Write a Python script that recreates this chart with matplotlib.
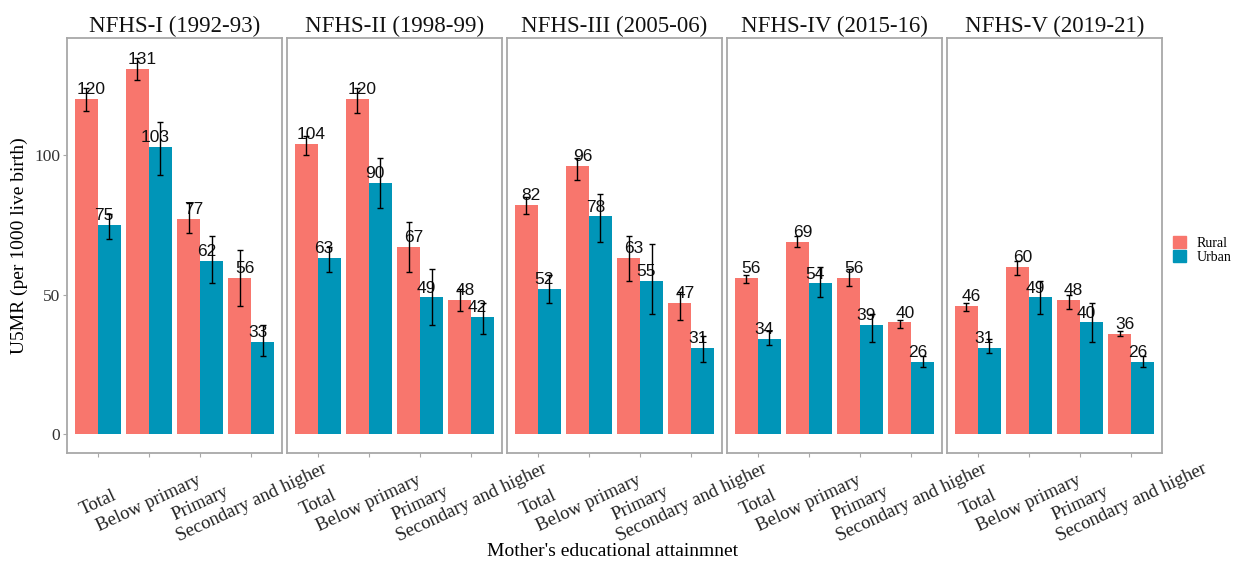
import numpy as np
import matplotlib.pyplot as plt
from matplotlib.patches import Patch

surveys = ["NFHS-I (1992-93)", "NFHS-II (1998-99)", "NFHS-III (2005-06)",
           "NFHS-IV (2015-16)", "NFHS-V (2019-21)"]
levels = ["Total", "Below primary", "Primary", "Secondary and higher"]

# U5MR per survey, order follows levels
rural = [[120, 131, 77, 56], [104, 120, 67, 48], [82, 96, 63, 47],
         [56, 69, 56, 40], [46, 60, 48, 36]]
rural_lo = [[116, 127, 72, 46], [100, 115, 58, 44], [79, 91, 55, 41],
            [54, 67, 53, 38], [44, 57, 45, 35]]
rural_hi = [[124, 135, 83, 66], [107, 124, 76, 52], [85, 99, 71, 51],
            [57, 71, 59, 41], [47, 62, 50, 37]]

urban = [[75, 103, 62, 33], [63, 90, 49, 42], [52, 78, 55, 31],
         [34, 54, 39, 26], [31, 49, 40, 26]]
urban_lo = [[70, 93, 54, 28], [58, 81, 39, 36], [47, 69, 43, 26],
            [32, 49, 33, 24], [29, 43, 33, 24]]
urban_hi = [[79, 112, 71, 39], [67, 99, 59, 47], [57, 86, 68, 35],
            [37, 60, 43, 28], [34, 55, 47, 28]]

c_rural = "#F8766D"
c_urban = "#0095B8"
edge = "#A8A8A8"
serif = "Liberation Serif"

fig = plt.figure(figsize=(12.45, 5.64), dpi=100)

W, H = 1245, 564
left0, pw, gap = 67, 215, 5
top, bottom = 38, 453

x = np.arange(1, 5)
bw = 0.45
axes = []
for i, name in enumerate(surveys):
    l = left0 + i * (pw + gap)
    ax = fig.add_axes([l / W, 1 - bottom / H, pw / W, (bottom - top) / H])
    axes.append(ax)

    r = np.array(rural[i])
    u = np.array(urban[i])
    ax.bar(x - bw / 2, r, bw, color=c_rural, zorder=2)
    ax.bar(x + bw / 2, u, bw, color=c_urban, zorder=2)

    ax.errorbar(x - bw / 2, r, yerr=[r - np.array(rural_lo[i]), np.array(rural_hi[i]) - r],
                fmt='none', ecolor='black', elinewidth=1, capsize=2.5, capthick=1, zorder=4)
    ax.errorbar(x + bw / 2, u, yerr=[u - np.array(urban_lo[i]), np.array(urban_hi[i]) - u],
                fmt='none', ecolor='black', elinewidth=1, capsize=2.5, capthick=1, zorder=4)

    for xx, v in zip(x - 0.125, r):
        ax.annotate(str(v), (xx, v), xytext=(0, 3.5), textcoords='offset points',
                    ha='center', va='baseline', fontsize=12.5,
                    family='Liberation Sans', color='#111111', zorder=3)
    for xx, v in zip(x + 0.125, u):
        ax.annotate(str(v), (xx, v), xytext=(0, 3.5), textcoords='offset points',
                    ha='center', va='baseline', fontsize=12.5,
                    family='Liberation Sans', color='#111111', zorder=3)

    ax.set_xlim(0.4, 4.6)
    ax.set_ylim(-6.8, 142)
    ax.set_title(name, fontsize=16.5, family=serif, pad=4, color='#111111')

    for s in ax.spines.values():
        s.set_color(edge)
        s.set_linewidth(1.3)

    ax.set_xticks(x)
    ax.set_xticklabels(levels, rotation=25, ha='center', va='center',
                       rotation_mode='anchor', fontsize=13.5, family=serif,
                       color='#222222')
    ax.tick_params(axis='x', length=3, color=edge, pad=33)

    if i == 0:
        ax.set_yticks([0, 50, 100])
        ax.set_yticklabels(["0", "50", "100"], fontsize=12.5, family=serif, color='#333333')
        ax.tick_params(axis='y', length=3, color=edge, pad=2)
        ax.set_ylabel("U5MR (per 1000 live birth)", fontsize=14, family=serif, labelpad=4)
    else:
        ax.set_yticks([])

fig.text(613 / W, 1 - 552 / H, "Mother's educational attainmnet", ha='center', va='center',
         fontsize=14, family=serif)

handles = [Patch(color=c_rural), Patch(color=c_urban)]
fig.legend(handles, ["Rural", "Urban"], loc='center left',
           bbox_to_anchor=(1173 / W, 1 - 250 / H), frameon=False,
           prop={'family': serif, 'size': 10}, handlelength=0.9, handleheight=0.95,
           labelspacing=0, handletextpad=0.8, borderpad=0, borderaxespad=0)

fig.savefig("out.png", dpi=100)
